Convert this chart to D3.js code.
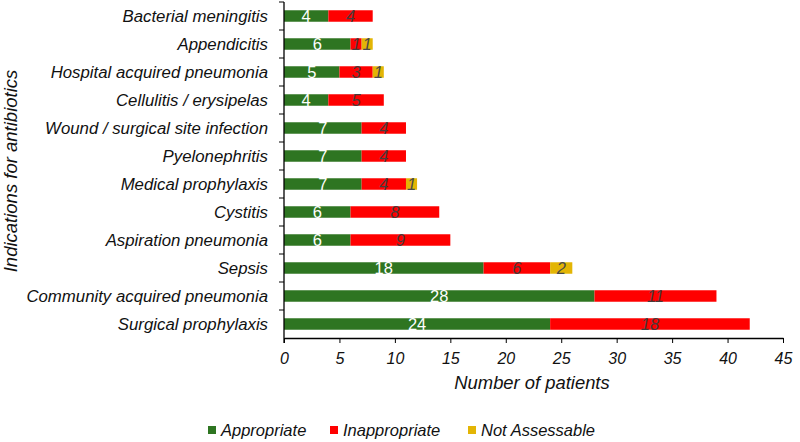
<!DOCTYPE html>
<html><head><meta charset="utf-8">
<script src="https://cdn.jsdelivr.net/npm/d3@7"></script>
<style>body{margin:0;background:#fff}svg{display:block;font-family:"Liberation Sans",Arial,sans-serif}</style>
</head><body>
<svg id="c" width="800" height="442"></svg>
<script>
const categories = ["Bacterial meningitis","Appendicitis","Hospital acquired pneumonia","Cellulitis / erysipelas","Wound / surgical site infection","Pyelonephritis","Medical prophylaxis","Cystitis","Aspiration pneumonia","Sepsis","Community acquired pneumonia","Surgical prophylaxis"];
const appropriate   = [4,6,5,4,7,7,7,6,6,18,28,24];
const inappropriate = [4,1,3,5,4,4,4,8,9,6,11,18];
const notAssessable = [0,1,1,0,0,0,1,0,0,2,0,0];
const seriesNames = ["Appropriate","Inappropriate","Not Assessable"];
const seriesColors = ["#2e7521","#ff0000","#e3b505"];
const labelColors = ["#ffffff","#4a3a3a","#4a4a4a"];
const labelStyles = ["normal","italic","italic"];
const xTicks = [0,5,10,15,20,25,30,35,40,45];

const svg = d3.select("#c");
const m = {l:284, r:783, t:2, b:338};
const x = d3.scaleLinear().domain([0,45]).range([m.l,m.r]);
const y = d3.scaleBand().domain(categories).range([m.t,m.b]).paddingInner(0.59).paddingOuter(0.295);
const yb = d3.scaleBand().domain(categories).range([m.t,m.b]);

const rows = categories.map((c,i)=>({cat:c, a:appropriate[i], b:inappropriate[i], n:notAssessable[i]}));
const stack = d3.stack().keys(["a","b","n"])(rows);

stack.forEach((s,si)=>{
  const g = svg.append("g");
  g.selectAll("rect").data(s.filter(d=>d[1]>d[0])).join("rect")
    .attr("x",d=>x(d[0])).attr("width",d=>x(d[1])-x(d[0]))
    .attr("y",d=>y(d.data.cat)).attr("height",y.bandwidth())
    .attr("fill",seriesColors[si]);
  g.selectAll("text").data(s.filter(d=>d[1]>d[0])).join("text")
    .attr("x",d=>(x(d[0])+x(d[1]))/2)
    .attr("y",d=>y(d.data.cat)+y.bandwidth()/2)
    .attr("dy","0.36em").attr("text-anchor","middle")
    .attr("font-size",16.5).attr("font-style",labelStyles[si])
    .attr("fill",labelColors[si])
    .text(d=>d[1]-d[0]);
});

// x axis
const xa = svg.append("g").attr("transform",`translate(0,${m.b})`)
  .call(d3.axisBottom(x).tickValues(xTicks).tickSize(5).tickSizeOuter(0));
xa.select(".domain").attr("stroke","#000").attr("stroke-width",1.3);
xa.selectAll(".tick line").attr("stroke","#000");
xa.selectAll("text").attr("font-size",16).attr("font-style","italic").attr("fill","#111").attr("dy","1.1em")
  .attr("font-family","Liberation Sans, Arial, sans-serif");

// y axis
const ya = svg.append("g").attr("transform",`translate(${m.l},0)`);
ya.append("line").attr("x1",0).attr("x2",0).attr("y1",m.t).attr("y2",m.b+5).attr("stroke","#000").attr("stroke-width",1.3);
ya.selectAll("line.t").data(categories).join("line").attr("class","t")
  .attr("x1",-5).attr("x2",0).attr("y1",d=>yb(d)).attr("y2",d=>yb(d)).attr("stroke","#000");
ya.selectAll("text").data(categories).join("text")
  .attr("x",-16).attr("y",d=>y(d)+y.bandwidth()/2).attr("dy","0.36em")
  .attr("text-anchor","end").attr("font-size",16.8).attr("font-style","italic").attr("fill","#111")
  .text(d=>d);

svg.append("text").attr("transform",`translate(10,171) rotate(-90)`).attr("text-anchor","middle")
  .attr("dy","0.36em").attr("font-size",18.5).attr("font-style","italic").attr("fill","#111")
  .text("Indications for antibiotics");
svg.append("text").attr("x",532).attr("y",389).attr("text-anchor","middle")
  .attr("font-size",18.4).attr("font-style","italic").attr("fill","#111").text("Number of patients");

// legend
const legX = [208,330,468];
const lg = svg.append("g");
seriesNames.forEach((n,i)=>{
  lg.append("rect").attr("x",legX[i]).attr("y",426).attr("width",8).attr("height",8).attr("fill",seriesColors[i]);
  lg.append("text").attr("x",legX[i]+13).attr("y",436).attr("font-size",16.5).attr("font-style","italic").attr("fill","#111").text(n);
});
</script>
</body></html>
